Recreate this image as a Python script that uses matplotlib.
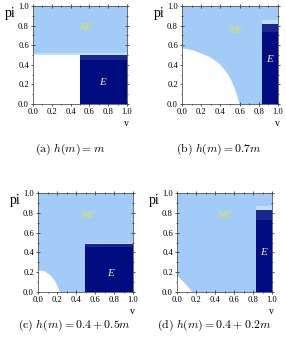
import matplotlib
matplotlib.use("Agg")
import matplotlib.pyplot as plt
from matplotlib.ticker import MultipleLocator

plt.rcParams['mathtext.fontset'] = 'cm'
plt.rcParams['font.family'] = ['Liberation Serif', 'DejaVu Serif']

# ---------------- data ----------------
captions = [r"$\mathrm{(a)}\ h(m) = m$",
            r"$\mathrm{(b)}\ h(m) = 0.7m$",
            r"$\mathrm{(c)}\ h(m) = 0.4 + 0.5m$",
            r"$\mathrm{(d)}\ h(m) = 0.4 + 0.2m$"]

# white (no-equilibrium) region boundaries: v, pi points
white_v_a = [0.0, 0.5, 0.5, 0.0]
white_pi_a = [0.0, 0.0, 0.5, 0.5]
white_v_b = [0.0, 0.11, 0.29, 0.39, 0.46, 0.51, 0.56, 0.60]
white_pi_b = [0.57, 0.55, 0.48, 0.41, 0.33, 0.25, 0.13, 0.0]
white_v_c = [0.0, 0.07, 0.13, 0.18, 0.21, 0.23]
white_pi_c = [0.22, 0.21, 0.17, 0.11, 0.05, 0.0]
white_v_d = [0.0, 0.05, 0.10, 0.16]
white_pi_d = [0.17, 0.12, 0.07, 0.0]

# E region: left edge in v, top in pi, lower edge of the hatched band
e_v0 = [0.50, 0.83, 0.49, 0.83]
e_top = [0.50, 0.82, 0.48, 0.83]
e_band = [0.45, 0.73, 0.45, 0.73]
# pale strip just above the E region: (v start, top)
pale_v0 = [0.0, 0.83, 0.49, 0.83]
pale_top = [0.52, 0.86, 0.49, 0.87]

# label positions
ne_pos = [(0.55, 0.78), (0.55, 0.75), (0.52, 0.77), (0.50, 0.77)]
e_pos = [(0.74, 0.22), (0.91, 0.45), (0.76, 0.19), (0.91, 0.40)]

whites = [(white_v_a, white_pi_a), (white_v_b, white_pi_b),
          (white_v_c, white_pi_c), (white_v_d, white_pi_d)]

# ---------------- layout ----------------
W, H = 286, 346
fig = plt.figure(figsize=(W / 100, H / 100), dpi=100)
boxes = [(33, 6, 94, 98), (182, 6, 96, 98), (38, 193, 95, 99), (177, 193, 95, 99)]

LIGHT = '#a3cbf7'
PALE = '#c4def9'
DARK = '#000c80'
BAND = '#18268e'

for i, (x0, y0, w, h) in enumerate(boxes):
    ax = fig.add_axes([x0 / W, 1 - (y0 + h) / H, w / W, h / H])
    ax.set_xlim(0, 1)
    ax.set_ylim(0, 1)
    ax.fill([0, 1, 1, 0], [0, 0, 1, 1], color=LIGHT, lw=0, zorder=1)
    # pale strip
    ax.fill([pale_v0[i], 1, 1, pale_v0[i]],
            [e_top[i], e_top[i], pale_top[i], pale_top[i]], color=PALE, lw=0, zorder=1.5)
    # white region
    wv, wp = whites[i]
    ax.fill([0] + list(wv), [0] + list(wp), color='white', lw=0, zorder=2)
    # E region
    ax.fill([e_v0[i], 1, 1, e_v0[i]], [0, 0, e_band[i], e_band[i]], color=DARK, lw=0, zorder=3)
    ax.fill([e_v0[i], 1, 1, e_v0[i]], [e_band[i], e_band[i], e_top[i], e_top[i]],
            color=BAND, lw=0, zorder=3)
    ax.text(*ne_pos[i], 'NE', color='#dbe35c', fontsize=8, style='italic',
            ha='center', va='center', zorder=4)
    ax.text(*e_pos[i], 'E', color='#eef0c0', fontsize=8, style='italic',
            ha='center', va='center', zorder=4)

    ax.xaxis.set_major_locator(MultipleLocator(0.2))
    ax.yaxis.set_major_locator(MultipleLocator(0.2))
    ax.xaxis.set_minor_locator(MultipleLocator(0.1))
    ax.yaxis.set_minor_locator(MultipleLocator(0.1))
    ax.xaxis.set_major_formatter(lambda v, p: f"{v:.1f}")
    ax.yaxis.set_major_formatter(lambda v, p: f"{v:.1f}")
    ax.tick_params(which='both', direction='inout', top=True, right=True,
                   labelsize=6.2, color='#333333', width=0.6, pad=1.2)
    ax.tick_params(which='major', length=3.5)
    ax.tick_params(which='minor', length=2)
    for s in ax.spines.values():
        s.set_linewidth(0.6)
        s.set_color('#555555')
    ax.text(-0.24, 0.92, 'pi', transform=ax.transAxes, fontsize=10,
            ha='center', va='center')
    ax.text(0.99, -0.195, 'v', transform=ax.transAxes, fontsize=7,
            ha='center', va='center')

cap_pos = [(70, 149), (219, 149), (74, 325), (214, 325)]
for (cx, cy), c in zip(cap_pos, captions):
    fig.text(cx / W, 1 - cy / H, c, fontsize=8.5, ha='center', va='center')

fig.savefig('out.png', dpi=100)
